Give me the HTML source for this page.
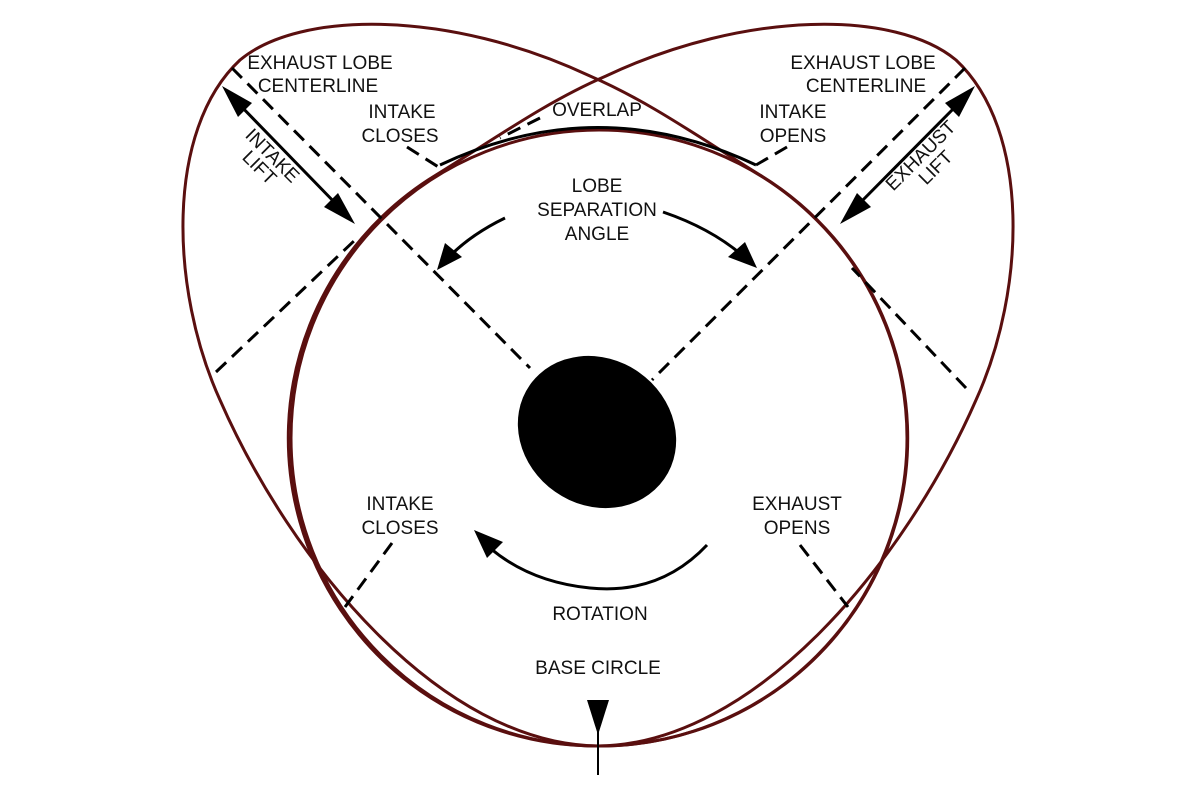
<!DOCTYPE html>
<html><head><meta charset="utf-8"><style>
html,body{margin:0;padding:0;background:#fff;}
svg{display:block;}
text{font-family:"Liberation Sans Narrow","Liberation Sans",sans-serif;font-size:19px;fill:#111;text-anchor:middle;}
</style></head><body>
<svg width="1200" height="801" viewBox="0 0 1200 801" xmlns="http://www.w3.org/2000/svg">
<g fill="none" stroke="#5a0f0f" stroke-width="3">
<path d="M599,746 C440,745 290,560 220,400 C170,290 165,130 240,60 C300,10 450,10 590,76 C650,102 700,138 760,175 A308,308 0 0 1 599,746 Z"/>
<path d="M599,746 C440,745 290,560 220,400 C170,290 165,130 240,60 C300,10 450,10 590,76 C650,102 700,138 760,175 A308,308 0 0 1 599,746 Z" transform="translate(1196,0) scale(-1,1)"/>
<circle cx="599" cy="438" r="308"/>
</g>
<g fill="none" stroke="#000" stroke-width="3" stroke-dasharray="14,8">
<line x1="232" y1="68" x2="530" y2="368"/>
<line x1="965" y1="68" x2="652" y2="380"/>
<line x1="216" y1="372" x2="355" y2="240"/>
<line x1="966" y1="388" x2="852" y2="268"/>
<line x1="407" y1="147" x2="440" y2="168"/>
<line x1="540" y1="118" x2="500" y2="138"/>
<line x1="787" y1="147" x2="756" y2="165"/>
<line x1="392" y1="543" x2="345" y2="607"/>
<line x1="800" y1="545" x2="848" y2="607"/>
</g>
<g fill="none" stroke="#000" stroke-width="3">
<path d="M440,165 Q598,90 756,165"/>
<line x1="235" y1="100" x2="340" y2="208"/>
<line x1="962" y1="100" x2="855" y2="208"/>
<path d="M505,218 Q470,235 448,258"/>
<path d="M663,212 Q710,228 742,255"/>
<path d="M707,545 Q660,595 590,588 Q530,582 490,548"/>
<line x1="598" y1="720" x2="598" y2="775" stroke-width="2"/>
</g>
<g fill="#000">
<polygon points="222,86 252,103 238,117"/>
<polygon points="355,224 324,207 338,193"/>
<polygon points="975,86 945,103 959,117"/>
<polygon points="840,224 871,207 857,193"/>
<polygon points="437,270 445,243 462,257"/>
<polygon points="757,268 728,257 745,242"/>
<polygon points="474,530 503,542 487,558"/>
<polygon points="587,700 609,700 598,735"/>
<ellipse cx="597" cy="432" rx="82" ry="73" transform="rotate(35 597 432)"/>
</g>
<text x="320" y="69">EXHAUST LOBE</text>
<text x="318" y="92">CENTERLINE</text>
<text x="863" y="69">EXHAUST LOBE</text>
<text x="866" y="92">CENTERLINE</text>
<text x="402" y="118">INTAKE</text>
<text x="400" y="142">CLOSES</text>
<text x="793" y="118">INTAKE</text>
<text x="793" y="142">OPENS</text>
<text x="597" y="116">OVERLAP</text>
<text x="597" y="192">LOBE</text>
<text x="597" y="216">SEPARATION</text>
<text x="597" y="240">ANGLE</text>
<text transform="translate(268,160) rotate(45)">INTAKE</text>
<text transform="translate(255,172) rotate(45)">LIFT</text>
<text transform="translate(925,160) rotate(-45)">EXHAUST</text>
<text transform="translate(940,172) rotate(-45)">LIFT</text>
<text x="400" y="510">INTAKE</text>
<text x="400" y="534">CLOSES</text>
<text x="797" y="510">EXHAUST</text>
<text x="797" y="534">OPENS</text>
<text x="600" y="620">ROTATION</text>
<text x="598" y="674">BASE CIRCLE</text>
</svg>
</body></html>
